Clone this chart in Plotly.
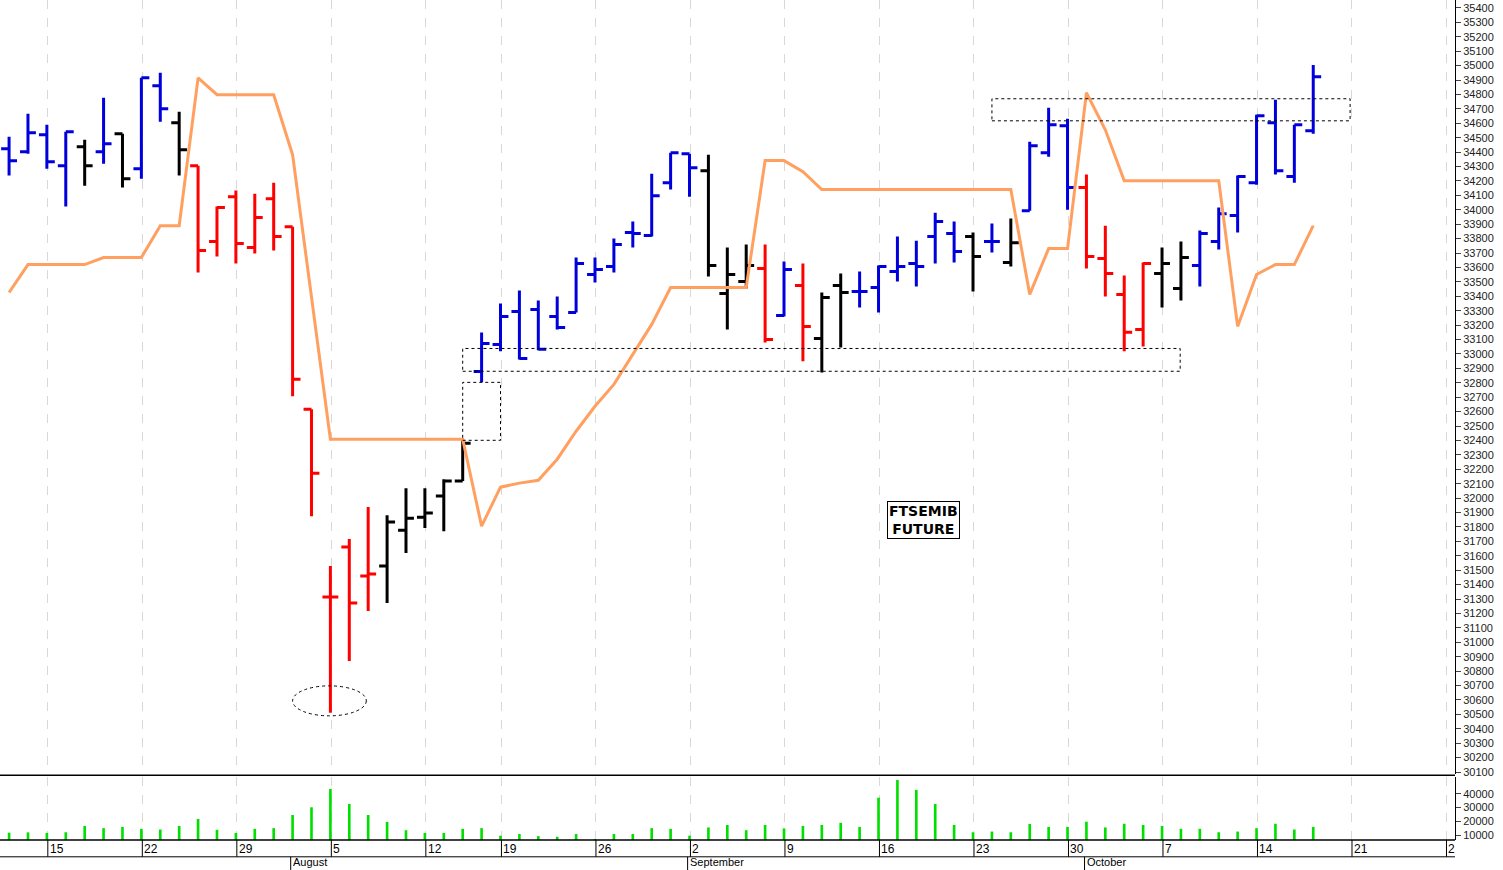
import plotly.graph_objects as go

# daily bars, index = trading day from 11 Jul 2024 to 17 Oct 2024
opens = [34424, 34403, 34521, 34306, 34437, 34403, 34527, 34285, 34860, 34604,
         34306, 33780, 34091, 33738, 34077, 33883, 32616, 31314, 31661, 31460,
         31529, 31778, 31868, 32014, 32118, 32879, 33066, 33295, 33309, 33260,
         33288, 33551, 33607, 33842, 33821, 34188, 34389, 34271, 33420, 33503,
         33593, 33267, 33475, 33108, 33475, 33433, 33461, 33572, 33627, 33814,
         33835, 33814, 33780, 33634, 33994, 34396, 34583, 34154, 33662, 33413,
         33170, 33558, 33454, 33613, 33780, 33960, 34188, 34604, 34230, 34548]
highs = [34507, 34666, 34590, 34541, 34486, 34777, 34527, 34915, 34950, 34680,
         34306, 34022, 34133, 34112, 34188, 33883, 32616, 31529, 31716, 31938,
         31882, 32069, 32069, 32131, 32408, 33149, 33350, 33440, 33371, 33399,
         33669, 33669, 33800, 33918, 34250, 34396, 34389, 34382, 33738, 33759,
         33759, 33641, 33627, 33426, 33558, 33572, 33613, 33814, 33786, 33980,
         33918, 33842, 33904, 33939, 34472, 34708, 34631, 34244, 33890, 33544,
         33634, 33738, 33780, 33856, 34015, 34237, 34659, 34763, 34590, 35005]
lows = [34237, 34389, 34285, 34022, 34167, 34320, 34154, 34216, 34611, 34237,
        33565, 33676, 33627, 33696, 33717, 32706, 31875, 30511, 30871, 31217,
        31273, 31619, 31792, 31771, 32118, 32803, 33018, 32962, 33025, 33170,
        33288, 33496, 33565, 33738, 33814, 34140, 34091, 33537, 33170, 33454,
        33080, 33260, 32949, 32872, 33045, 33323, 33288, 33503, 33468, 33627,
        33634, 33433, 33703, 33607, 33994, 34368, 34001, 33593, 33399, 33018,
        33052, 33323, 33371, 33468, 33724, 33842, 34174, 34244, 34188, 34527]
closes = [34340, 34534, 34333, 34541, 34306, 34458, 34216, 34915, 34701, 34417,
          33717, 34015, 33766, 33946, 33814, 32824, 32173, 31314, 31273, 31474,
          31834, 31861, 31896, 32118, 32381, 33073, 33260, 32969, 33032, 33184,
          33627, 33586, 33759, 33835, 34098, 34396, 34292, 33613, 33551, 33613,
          33101, 33586, 33191, 33392, 33426, 33433, 33607, 33607, 33607, 33918,
          33710, 33676, 33780, 33772, 34444, 34590, 34154, 33676, 33558, 33150,
          33627, 33627, 33669, 33835, 33973, 34230, 34652, 34271, 34590, 34922]
signal = list("bbbbkbkbbk" "rrrrrrrrrr" "kkkkkbbbbb" "bbbbbbbkkk" "rbrkkbbbbb"
              "bkbkbbbrrr" "rkkbbbbbbb")
stop_line = [33426, 33620, 33620, 33620, 33620, 33669, 33669, 33669, 33890, 33890,
             34915, 34798, 34798, 34798, 34798, 34382, 33413, 32408, 32408, 32408,
             32408, 32408, 32408, 32408, 32408, 31806, 32076, 32104, 32124, 32270,
             32464, 32637, 32789, 32997, 33205, 33461, 33461, 33461, 33461, 33461,
             34341, 34341, 34264, 34140, 34140, 34140, 34140, 34140, 34140, 34140,
             34140, 34140, 34140, 34140, 33413, 33731, 33731, 34812, 34555, 34202,
             34202, 34202, 34202, 34202, 34202, 33191, 33551, 33620, 33620, 33890]
volume = [11700, 11900, 11500, 12000, 16600, 15000, 15900, 14500, 14000, 16600,
          21700, 13800, 11500, 14500, 15000, 24600, 30200, 43600, 32600, 24600,
          19500, 13500, 11500, 11500, 14500, 15000, 9500, 10700, 9200, 8700,
          10700, 7100, 10700, 10700, 15000, 14500, 9500, 15500, 17300, 13500,
          17300, 14800, 16600, 17300, 18900, 15900, 37200, 50100, 42900, 32600,
          17300, 12000, 12500, 12000, 18000, 15900, 15900, 19700, 15500, 18200,
          17300, 16600, 14500, 14500, 12000, 12500, 15000, 18200, 14000, 15900]

week_pos = [2, 7, 12, 17, 22, 26, 31, 36, 41, 46, 51, 56, 61, 66, 71, 76]
week_text = ["15", "22", "29", "5", "12", "19", "26", "2", "9", "16", "23", "30",
             "7", "14", "21", "2"]
month_pos = [15, 36, 57]
month_text = ["August", "September", "October"]

colors = {"b": "#0000dd", "r": "#ff0000", "k": "#000000"}
idx = list(range(len(opens)))

fig = go.Figure()
for code, col in colors.items():
    sel = [i for i in idx if signal[i] == code]
    fig.add_trace(go.Ohlc(
        x=sel, open=[opens[i] for i in sel], high=[highs[i] for i in sel],
        low=[lows[i] for i in sel], close=[closes[i] for i in sel],
        increasing_line=dict(color=col, width=3), decreasing_line=dict(color=col, width=3),
        tickwidth=0.42, xaxis="x", yaxis="y", showlegend=False))

fig.add_trace(go.Scatter(x=idx, y=stop_line, mode="lines",
                         line=dict(color="#ffa060", width=3), xaxis="x", yaxis="y",
                         showlegend=False))
fig.add_trace(go.Bar(x=idx, y=volume, width=0.14, marker_color="#00e000",
                     marker_line_width=0, xaxis="x", yaxis="y2", showlegend=False))

dash = dict(color="black", width=1, dash="dot")
fig.add_shape(type="rect", x0=24, x1=61.96, y0=32880, y1=33038, line=dash, xref="x", yref="y")
fig.add_shape(type="rect", x0=24, x1=26, y0=32401, y1=32803, line=dash, xref="x", yref="y")
fig.add_shape(type="rect", x0=52, x1=70.95, y0=34617, y1=34770, line=dash, xref="x", yref="y")
fig.add_shape(type="circle", x0=15, x1=18.9, y0=30490, y1=30698, line=dash, xref="x", yref="y")

# panel separators
fig.add_shape(type="line", xref="paper", yref="paper", x0=0, x1=1, y0=0.077, y1=0.077,
              line=dict(color="black", width=1.5))
fig.add_shape(type="line", xref="paper", yref="paper", x0=0, x1=1, y0=0, y1=0,
              line=dict(color="black", width=1.5))

fig.add_annotation(x=48.4, y=31850, xref="x", yref="y", text="<b>FTSEMIB<br>FUTURE</b>",
                   showarrow=False, bordercolor="black", borderwidth=1, borderpad=1,
                   bgcolor="white", font=dict(family="DejaVu Sans", size=14, color="black"))

for p, t in zip(week_pos, week_text):
    fig.add_annotation(x=p + 0.05, y=0, xref="x", yref="paper", text=t, showarrow=False,
                       xanchor="left", yanchor="top", yshift=0,
                       font=dict(family="Arial", size=12, color="black"))
    fig.add_shape(type="line", xref="x", yref="paper", x0=p + 0.05, x1=p + 0.05, y0=0, y1=-0.02,
                  line=dict(color="black", width=1))
for p, t in zip(month_pos, month_text):
    fig.add_annotation(x=p - 0.1, y=-0.02, xref="x", yref="paper", text=t, showarrow=False,
                       xanchor="left", yanchor="top", yshift=3,
                       font=dict(family="Arial", size=11, color="black"))
    fig.add_shape(type="line", xref="x", yref="paper", x0=p - 0.1, x1=p - 0.1, y0=-0.02, y1=-0.04,
                  line=dict(color="black", width=1))
fig.add_shape(type="line", xref="paper", yref="paper", x0=0, x1=1, y0=-0.02, y1=-0.02,
              line=dict(color="black", width=1))

fig.update_layout(
    width=1503, height=870, margin=dict(l=0, r=48, t=0, b=30),
    plot_bgcolor="white", paper_bgcolor="white",
    xaxis=dict(range=[-0.48, 76.5], tickvals=[p + 0.05 for p in week_pos], showticklabels=False,
               showgrid=True, gridcolor="#d8d8d8", griddash="dash", gridwidth=1,
               zeroline=False, rangeslider=dict(visible=False), ticks="", automargin=False),
    yaxis=dict(domain=[0.079, 1], range=[30089, 35455], side="right", dtick=100,
               tick0=30000, showgrid=False, zeroline=False, ticks="outside", ticklen=5,
               showline=True, linecolor="black", automargin=False,
               tickfont=dict(family="Arial", size=11, color="#222"), tickformat="d"),
    yaxis2=dict(domain=[0, 0.075], range=[6350, 52300], side="right",
                tickvals=[10000, 20000, 30000, 40000], showgrid=False, zeroline=False,
                ticks="outside", ticklen=5, showline=True, linecolor="black", automargin=False,
                tickfont=dict(family="Arial", size=11, color="#222"), tickformat="d"),
)

fig.write_html("out.html", config={"displayModeBar": False},
               post_script="document.body.style.margin='0';document.body.style.overflow='hidden';")
